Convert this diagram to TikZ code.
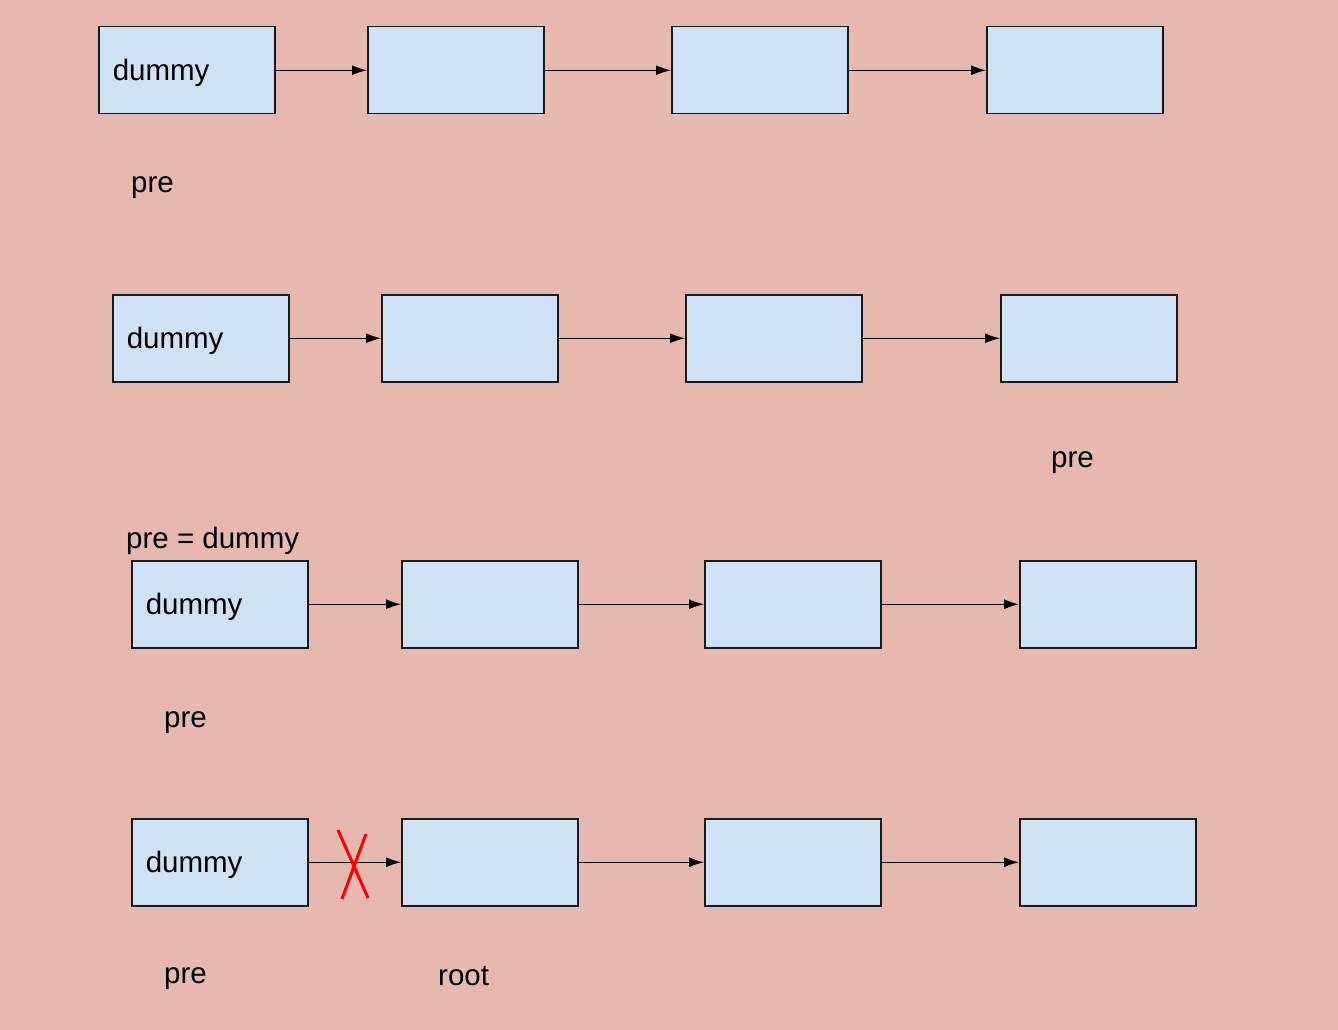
\documentclass[tikz,border=0pt]{standalone}
\usepackage{fontspec}
\setmainfont{Liberation Sans}
\usetikzlibrary{arrows.meta}
\definecolor{pagered}{HTML}{E6B8AF}
\definecolor{cellblue}{HTML}{CFE2F3}
\begin{document}
\begin{tikzpicture}[
    x=1pt, y=-1pt,
    every node/.style={font=\fontsize{29.5}{32}\selectfont},
    cell/.style={draw=black!90, fill=cellblue, line width=1.5pt, anchor=north west,
        minimum width=176pt, minimum height=87pt, inner ysep=0pt,
        inner xsep=14pt, text width=148pt, text depth=0pt, align=left},
    link/.style={draw, -{Latex[length=15pt,width=10pt]}, line width=1.3pt},
    tag/.style={anchor=base west, inner sep=0pt},
    cross/.style={draw=red, line width=3pt}
]

\fill[pagered] (0,0) rectangle (1338,1030);

\node[cell] (d1) at (98,26) {dummy};
\node[cell] (a1) at (367,26) {};
\node[cell] (b1) at (671,26) {};
\node[cell] (c1) at (986,26) {};
\draw[link] (d1.east) -- (a1.west);
\draw[link] (a1.east) -- (b1.west);
\draw[link] (b1.east) -- (c1.west);
\node[tag] (pre1) at (131,192) {pre};

\node[cell] (d2) at (112,294) {dummy};
\node[cell] (a2) at (381,294) {};
\node[cell] (b2) at (685,294) {};
\node[cell] (c2) at (1000,294) {};
\draw[link] (d2.east) -- (a2.west);
\draw[link] (a2.east) -- (b2.west);
\draw[link] (b2.east) -- (c2.west);
\node[tag] (pre2) at (1051,467) {pre};

\node[tag] (assign) at (126,548) {pre = dummy};
\node[cell] (d3) at (131,560) {dummy};
\node[cell] (a3) at (401,560) {};
\node[cell] (b3) at (704,560) {};
\node[cell] (c3) at (1019,560) {};
\draw[link] (d3.east) -- (a3.west);
\draw[link] (a3.east) -- (b3.west);
\draw[link] (b3.east) -- (c3.west);
\node[tag] (pre3) at (164,727) {pre};

\node[cell] (d4) at (131,818) {dummy};
\node[cell] (a4) at (401,818) {};
\node[cell] (b4) at (704,818) {};
\node[cell] (c4) at (1019,818) {};
\draw[link] (d4.east) -- (a4.west);
\draw[link] (a4.east) -- (b4.west);
\draw[link] (b4.east) -- (c4.west);
\draw[cross] (338,830) -- (368,898);
\draw[cross] (366,834) -- (342,899);
\node[tag] (pre4) at (164,983) {pre};
\node[tag] (root) at (438,985) {root};
\end{tikzpicture}
\end{document}
